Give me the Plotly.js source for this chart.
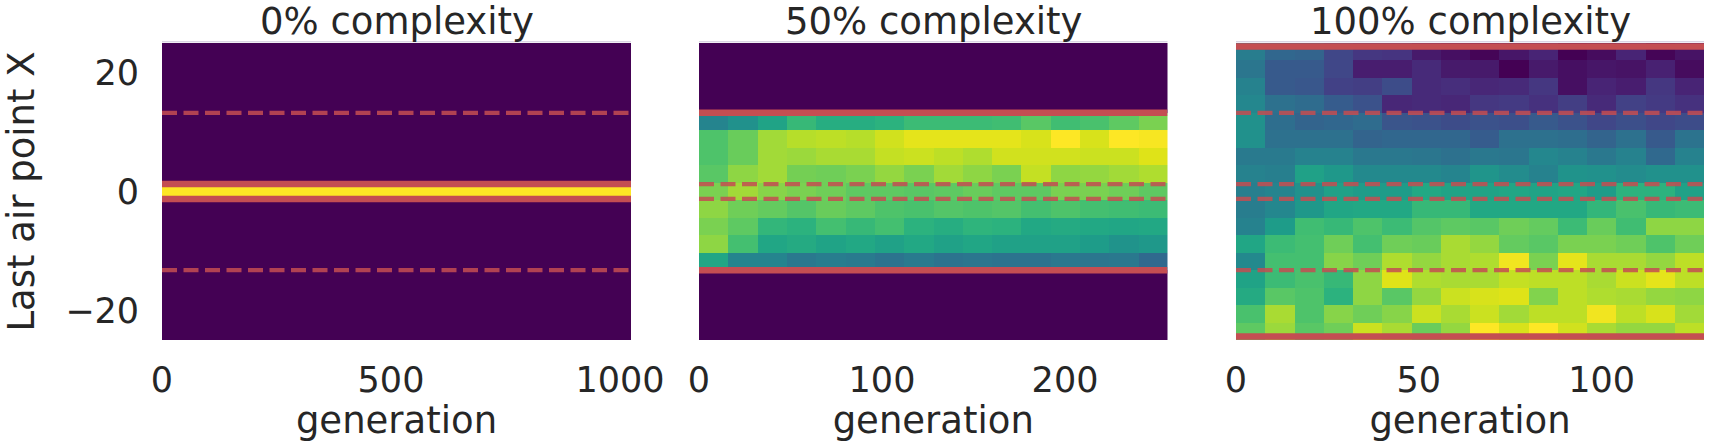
<!DOCTYPE html>
<html>
<head>
<meta charset="utf-8">
<script src="https://cdn.plot.ly/plotly-3.0.1.min.js"></script>
<style>html,body{margin:0;padding:0;background:#fff;}#chart{width:1709px;height:442px;}</style>
</head>
<body>
<div id="chart"></div>
<script>
// ---------------- data ----------------
const panelTitles = ['0% complexity', '50% complexity', '100% complexity'];
const generationMax = [1024, 256, 128];          // generations covered by each panel
const xTickValues = [[0, 500, 1000], [0, 100, 200], [0, 50, 100]];
const yTickValues = [-20, 0, 20];
const positionRange = [-25, 25];                 // range of "Last air point X"
const xAxisLabel = 'generation';
const yAxisLabel = 'Last air point X';

// boundaries of the reachable region (solid) and of the other levels (dashed)
const solidBoundaries = [[1.25], [13.25], [24.4]];
const dashedBoundaries = [[13.25], [1.25], [13.25, 1.25]];

// relative frequency (% of panel maximum), rows listed from top (X = +25) to bottom (X = -25),
// 16 generation bins per row
const hist0 = [
  [0,0,0,0,0,0,0,0,0,0,0,0,0,0,0,0],
  [0,0,0,0,0,0,0,0,0,0,0,0,0,0,0,0],
  [0,0,0,0,0,0,0,0,0,0,0,0,0,0,0,0],
  [0,0,0,0,0,0,0,0,0,0,0,0,0,0,0,0],
  [0,0,0,0,0,0,0,0,0,0,0,0,0,0,0,0],
  [0,0,0,0,0,0,0,0,0,0,0,0,0,0,0,0],
  [0,0,0,0,0,0,0,0,0,0,0,0,0,0,0,0],
  [0,0,0,0,0,0,0,0,0,0,0,0,0,0,0,0],
  [100,100,100,100,100,100,100,100,100,100,100,100,100,100,100,100],
  [0,0,0,0,0,0,0,0,0,0,0,0,0,0,0,0],
  [0,0,0,0,0,0,0,0,0,0,0,0,0,0,0,0],
  [0,0,0,0,0,0,0,0,0,0,0,0,0,0,0,0],
  [0,0,0,0,0,0,0,0,0,0,0,0,0,0,0,0],
  [0,0,0,0,0,0,0,0,0,0,0,0,0,0,0,0],
  [0,0,0,0,0,0,0,0,0,0,0,0,0,0,0,0],
  [0,0,0,0,0,0,0,0,0,0,0,0,0,0,0,0],
  [0,0,0,0,0,0,0,0,0,0,0,0,0,0,0,0]
];
const hist50 = [
  [0,0,0,0,0,0,0,0,0,0,0,0,0,0,0,0],
  [0,0,0,0,0,0,0,0,0,0,0,0,0,0,0,0],
  [0,0,0,0,0,0,0,0,0,0,0,0,0,0,0,0],
  [0,0,0,0,0,0,0,0,0,0,0,0,0,0,0,0],
  [45,50,58,67,62,62,64,68,68,68,69,74,69,71,75,80],
  [72,77,86,89,90,89,93,96,96,96,96,94,100,94,100,99],
  [72,77,86,85,87,87,91,92,90,88,93,93,93,92,92,95],
  [74,83,86,79,78,80,84,80,86,83,80,91,83,84,86,88],
  [80,86,82,80,78,75,75,74,75,77,75,75,80,80,78,75],
  [83,78,76,73,77,75,72,71,73,72,73,70,72,70,69,68],
  [80,75,66,64,70,67,70,64,62,65,64,60,61,60,59,60],
  [83,70,59,61,58,60,57,60,57,59,57,57,57,55,51,53],
  [59,45,45,40,42,41,38,41,38,39,38,38,40,39,40,34],
  [0,0,0,0,0,0,0,0,0,0,0,0,0,0,0,0],
  [0,0,0,0,0,0,0,0,0,0,0,0,0,0,0,0],
  [0,0,0,0,0,0,0,0,0,0,0,0,0,0,0,0],
  [0,0,0,0,0,0,0,0,0,0,0,0,0,0,0,0]
];
const hist100 = [
  [42,33,32,21,16,15,7,4,1,6,10,0,3,10,1,5],
  [39,28,28,21,8,8,12,7,7,0,7,4,6,5,9,3],
  [44,28,27,19,18,23,12,13,11,12,16,4,10,8,16,10],
  [46,37,35,29,25,11,12,11,16,17,14,18,12,19,17,14],
  [50,36,32,33,35,26,25,23,25,24,28,25,21,24,21,23],
  [50,37,37,37,32,33,33,33,29,37,37,36,32,37,28,38],
  [41,41,44,44,40,40,39,37,40,39,46,44,40,44,34,44],
  [44,43,57,53,47,47,47,45,52,48,44,51,50,48,50,50],
  [43,45,50,57,55,55,60,58,58,59,58,59,55,64,64,57],
  [42,46,53,59,60,60,67,67,60,60,60,60,66,71,67,68],
  [44,55,69,67,72,68,73,75,74,78,76,68,77,69,83,83],
  [59,68,70,78,70,78,77,87,84,76,74,80,80,78,72,78],
  [47,70,70,82,78,88,84,87,88,98,80,96,87,87,84,90],
  [58,68,71,67,83,95,88,87,87,91,90,90,87,92,96,90],
  [61,74,72,64,83,74,84,92,94,95,81,90,88,87,84,83],
  [71,87,72,82,78,82,92,87,92,86,90,90,98,90,94,86],
  [75,85,74,78,92,87,77,84,100,94,100,93,87,84,84,90]
];
const histograms = [hist0, hist50, hist100];

// ---------------- style ----------------
const viridis = ['#440154','#471365','#482475','#463480','#414487','#3b528b','#355f8d','#2f6c8e',
  '#2a788e','#25848e','#21918c','#1e9c89','#22a884','#2fb47c','#44bf70','#5ec962','#7ad151',
  '#9bd93c','#bddf26','#dfe318','#fde725'];
const colorscale = viridis.map((c, i) => [i / (viridis.length - 1), c]);
const FONT = 'DejaVu Sans, Liberation Sans, sans-serif';
const TEXT = '#262626';
const RED = '#c44e52';
const W = 1709, H = 442;
const panelsPx = [[162, 631], [699, 1167.5], [1236, 1704]];
const plotTop = 43, plotBottom = 340;

const traces = [];
const shapes = [];
const annotations = [];
const layout = {
  width: W, height: H,
  margin: {l: 0, r: 0, t: 0, b: 0},
  paper_bgcolor: '#ffffff', plot_bgcolor: '#ffffff',
  font: {family: FONT, color: TEXT, size: 35},
  showlegend: false,
  shapes: shapes, annotations: annotations
};

histograms.forEach((rows, p) => {
  const nRows = rows.length, nCols = rows[0].length;
  const dx = generationMax[p] / nCols;
  const dy = (positionRange[1] - positionRange[0]) / nRows;
  const sfx = p === 0 ? '' : String(p + 1);
  traces.push({
    type: 'heatmap',
    z: rows.slice().reverse(),
    x0: dx / 2, dx: dx,
    y0: positionRange[0] + dy / 2, dy: dy,
    zmin: 0, zmax: 100,
    colorscale: colorscale, showscale: false, zsmooth: false,
    hoverinfo: 'skip',
    xaxis: 'x' + sfx, yaxis: 'y' + sfx
  });
  layout['xaxis' + sfx] = {
    domain: [panelsPx[p][0] / W, panelsPx[p][1] / W],
    anchor: 'y' + sfx,
    range: [0, generationMax[p]],
    tickvals: xTickValues[p], ticktext: xTickValues[p].map(String),
    ticks: '', showgrid: false, zeroline: false, showline: false,
    tickfont: {family: FONT, size: 35, color: TEXT},
    ticklabelstandoff: 16,
    title: {text: xAxisLabel, font: {family: FONT, size: 37, color: TEXT}, standoff: 2},
    fixedrange: true
  };
  layout['yaxis' + sfx] = {
    domain: [(H - plotBottom) / H, (H - plotTop) / H],
    anchor: 'x' + sfx,
    range: positionRange,
    tickvals: yTickValues,
    showticklabels: p === 0,
    ticks: '', showgrid: false, zeroline: false, showline: false,
    tickfont: {family: FONT, size: 35, color: TEXT},
    ticklabelstandoff: 22,
    title: p === 0 ? {text: yAxisLabel, font: {family: FONT, size: 37, color: TEXT}, standoff: 29} : {text: ''},
    fixedrange: true
  };
  // faint top edge of each panel
  shapes.push({
    type: 'line', xref: 'x' + sfx + ' domain', yref: 'y' + sfx + ' domain',
    x0: 0, x1: 1, y0: 1.004, y1: 1.004, layer: 'below',
    line: {color: '#cbc3d9', width: 1}
  });
  solidBoundaries[p].forEach(b => {
    [b, -b].forEach(v => shapes.push({
      type: 'line', xref: 'x' + sfx, yref: 'y' + sfx,
      x0: 0, x1: generationMax[p], y0: v, y1: v,
      line: {color: RED, width: 6.5}
    }));
  });
  dashedBoundaries[p].forEach(b => {
    [b, -b].forEach(v => shapes.push({
      type: 'line', xref: 'x' + sfx, yref: 'y' + sfx,
      x0: 0, x1: generationMax[p], y0: v, y1: v, opacity: 0.85,
      line: {color: RED, width: 4.3, dash: '15px,6.5px'}
    }));
  });
  annotations.push({
    xref: 'x' + sfx + ' domain', yref: 'paper',
    x: 0.5, y: (H - 21) / H, xanchor: 'center', yanchor: 'middle',
    text: panelTitles[p], showarrow: false,
    font: {family: FONT, size: 37, color: TEXT}
  });
});

Plotly.newPlot('chart', traces, layout, {staticPlot: true, displayModeBar: false});
</script>
</body>
</html>
